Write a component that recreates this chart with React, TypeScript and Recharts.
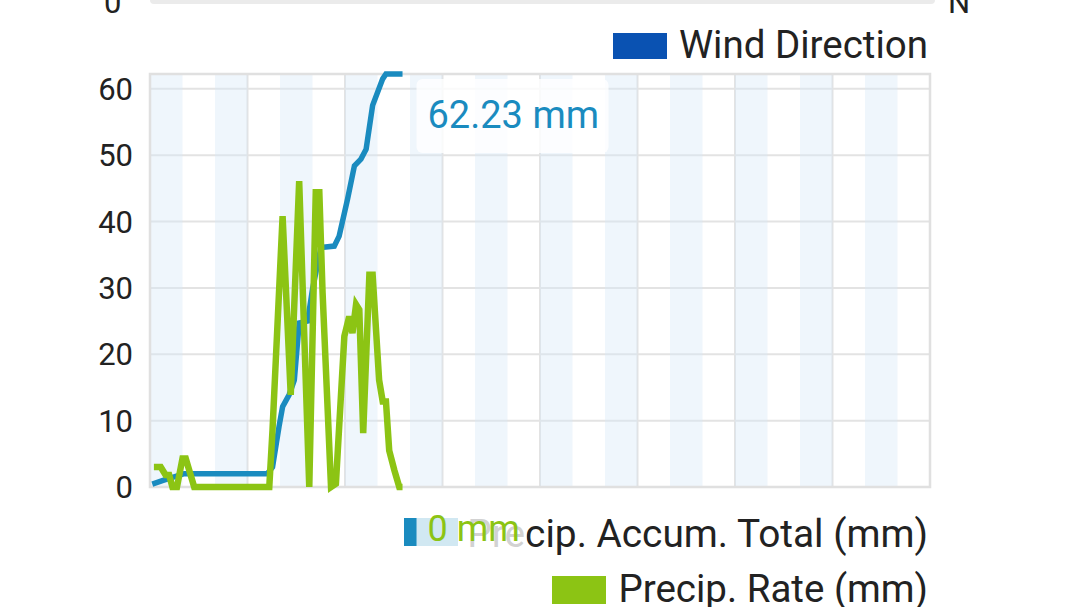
import React from 'react';
import {
  ComposedChart,
  Line,
  XAxis,
  YAxis,
  CartesianGrid,
  ReferenceArea,
  Customized,
} from 'recharts';

// Time axis in hours since start of day
const accumHours = [0.07, 0.38, 1.05, 3.61, 3.77, 3.97, 4.08, 4.28, 4.44, 4.59, 4.85, 5.0, 5.26, 5.67, 5.82, 6.08, 6.29, 6.49, 6.65, 6.85, 7.16, 7.26, 7.77];
const accumValues = [0.45, 0.95, 2.0, 2.0, 3.0, 9.1, 12.1, 13.9, 16.1, 24.7, 25.0, 29.8, 36.1, 36.3, 37.8, 43.4, 48.4, 49.4, 50.9, 57.5, 61.5, 62.23, 62.23];

const rateHours = [0.12, 0.33, 0.48, 0.59, 0.69, 0.83, 1.0, 1.1, 1.36, 3.67, 3.77, 4.08, 4.33, 4.59, 4.9, 5.1, 5.21, 5.31, 5.57, 5.72, 5.98, 6.13, 6.23, 6.34, 6.44, 6.56, 6.75, 6.85, 7.05, 7.16, 7.26, 7.36, 7.52, 7.67, 7.77];
const rateValues = [3.0, 3.0, 1.8, 1.8, 0, 0, 4.3, 4.3, 0, 0, 8.6, 40.8, 13.9, 46.1, 0, 44.4, 44.4, 29.3, 0, 0.5, 22.7, 25.7, 23.2, 27.5, 26.7, 8.1, 32.0, 32.0, 16.1, 12.9, 12.9, 5.5, 2.5, 0, 0];

const yTicks = [0, 10, 20, 30, 40, 50, 60];
const xGridHours = [0, 3, 6, 9, 12, 15, 18, 21, 24];
const bandStarts = [0, 2, 4, 6, 8, 10, 12, 14, 16, 18, 20, 22];

const seriesNames = {
  wind: 'Wind Direction',
  accum: 'Precip. Accum. Total (mm)',
  rate: 'Precip. Rate (mm)',
};

const COLORS = {
  accum: '#1a8bbf',
  rate: '#8cc414',
  wind: '#0a52b2',
  text: '#222222',
  grid: '#e3e3e3',
  band: '#d6e8f7',
};

const yMax = accumValues[accumValues.length - 1];

const accumData = accumHours.map((h, i) => ({ h, v: accumValues[i] }));
const rateData = rateHours.map((h, i) => ({ h, v: rateValues[i] }));

const FONT = 'Roboto, "Noto Sans", sans-serif';

function makeEndLabel(lastIndex: number, color: string, boxW: number, fontSize: number) {
  return (props: any) => {
    const { x, y, index, value } = props;
    if (index !== lastIndex) return null;
    return (
      <g>
        <rect x={x + 14} y={y + 5} width={boxW} height={74} rx={6} fill="#ffffff" fillOpacity={0.8} />
        <text x={x + 25} y={y + 54} fill={color} fontSize={fontSize} fontFamily={FONT}>
          {`${value} mm`}
        </text>
      </g>
    );
  };
}

const Decorations = () => (
  <g fontFamily={FONT}>
    {/* remnant of the chart above */}
    <rect x={150} y={-4} width={785} height={8} rx={4} fill="#ebebeb" />
    <text x={104} y={13} fontSize={31} fill={COLORS.text}>0</text>
    <text x={948} y={13} fontSize={31} fill={COLORS.text}>N</text>
    {/* legends */}
    <rect x={613} y={33} width={54} height={26} fill={COLORS.wind} />
    <text x={928} y={58} fontSize={38.5} fill={COLORS.text} textAnchor="end">{seriesNames.wind}</text>
    <rect x={404} y={518} width={54} height={28} fill={COLORS.accum} />
    <text x={928} y={547} fontSize={38.8} fill={COLORS.text} textAnchor="end">{seriesNames.accum}</text>
    <rect x={552} y={576} width={54} height={28} fill={COLORS.rate} />
    <text x={928} y={602} fontSize={38.5} fill={COLORS.text} textAnchor="end">{seriesNames.rate}</text>
  </g>
);

export default function App() {
  return (
    <div style={{ width: 1080, height: 607, background: '#ffffff' }}>
      <style>{`body{margin:0;}`}</style>
      <ComposedChart
        width={1080}
        height={607}
        margin={{ top: 74, right: 150, bottom: 120, left: 0 }}
        style={{ fontFamily: FONT }}
      >
        <Customized component={Decorations} />
        <XAxis dataKey="h" type="number" domain={[0, 24]} ticks={xGridHours} hide allowDuplicatedCategory={false} />
        <YAxis
          type="number"
          domain={[0, yMax]}
          ticks={yTicks}
          width={150}
          tickLine={false}
          axisLine={false}
          tickMargin={11}
          tick={{ fontSize: 31, fill: COLORS.text, fontFamily: FONT }}
          interval={0}
        />
        <CartesianGrid stroke={COLORS.grid} strokeWidth={2} />
        {bandStarts.map((b) => (
          <ReferenceArea key={b} x1={b} x2={b + 1} y1={0} y2={yMax} fill={COLORS.band} fillOpacity={0.4} stroke="none" ifOverflow="hidden" />
        ))}
        <ReferenceArea x1={0} x2={24} y1={0} y2={yMax} fill="none" stroke="#e0e0e0" strokeWidth={2.5} />
        <Line
          data={accumData}
          dataKey="v"
          type="linear"
          stroke={COLORS.accum}
          strokeWidth={5.5}
          dot={false}
          isAnimationActive={false}
          label={makeEndLabel(accumData.length - 1, COLORS.accum, 192, 38)}
        />
        <Line
          data={rateData}
          dataKey="v"
          type="linear"
          stroke={COLORS.rate}
          strokeWidth={6.5}
          dot={false}
          isAnimationActive={false}
          label={makeEndLabel(rateData.length - 1, COLORS.rate, 110, 36)}
        />
      </ComposedChart>
    </div>
  );
}
